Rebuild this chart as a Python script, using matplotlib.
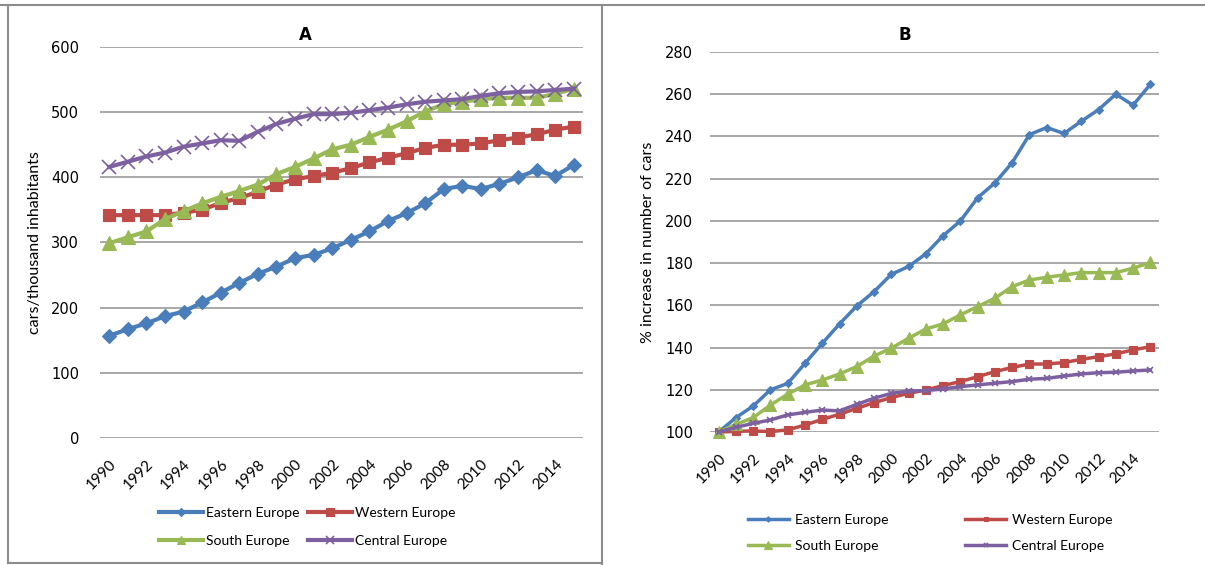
import matplotlib
matplotlib.use('Agg')
import matplotlib.pyplot as plt
from matplotlib.lines import Line2D
import numpy

YEARS = list(range(1990, 2016))
REGIONS = ['Eastern Europe', 'Western Europe', 'South Europe', 'Central Europe']

# cars per thousand inhabitants (panel A)
eastern_cars = [157, 167, 176, 187, 194, 208, 223, 238, 252, 263, 276, 281, 291, 304, 317,
                333, 345, 360, 382, 387, 382, 390, 400, 411, 402, 419]
western_cars = [342, 342, 342, 342, 346, 350, 361, 368, 378, 389, 397, 402, 407, 414, 423,
                430, 437, 445, 450, 450, 452, 457, 461, 466, 473, 478]
south_cars = [299, 308, 317, 336, 348, 360, 370, 379, 389, 405, 416, 429, 443, 450, 462,
              473, 486, 501, 512, 516, 520, 522, 522, 522, 528, 536]
central_cars = [416, 424, 432, 438, 447, 452, 457, 456, 470, 482, 490, 497, 497, 499, 503,
                507, 512, 516, 518, 520, 525, 529, 531, 532, 534, 536]

# % increase in number of cars (panel B)
eastern_pct = [100, 106.8, 112.3, 120, 123, 132.5, 142, 151.2, 159.7, 166.5, 174.7, 178.4, 184.4,
               193, 200, 211, 218, 227.6, 240.9, 244.2, 241.4, 247.2, 252.7, 260, 254.8, 264.7]
western_pct = [100, 100.3, 100.5, 100.2, 101, 103.3, 106, 108.4, 111.2, 113.9, 116.3, 118.3, 119.9,
               122, 123.9, 126.2, 128.6, 130.6, 132.2, 132.2, 132.9, 134.4, 135.7, 137, 138.9, 140.4]
south_pct = [100, 103.6, 106.8, 112.8, 117.9, 122.3, 124.6, 127.5, 131, 136, 139.7, 144.4, 148.8,
             151.2, 155.5, 159.4, 163.4, 168.9, 172, 173.3, 174.4, 175.5, 175.5, 175.5, 177.6, 180.3]
central_pct = [100, 102.2, 104.1, 105.7, 108.1, 109.3, 110.4, 110, 113.1, 116, 118.3, 119.4, 119.6,
               120.4, 121.5, 122.3, 123.1, 123.9, 125, 125.4, 126.5, 127.5, 128.1, 128.3, 128.9, 129.4]

COLORS = ['#4A7EBB', '#BE4B48', '#98B954', '#7D60A0']
MARKERS = ['D', 's', '^', 'x']

W, H = 1205, 565
TICK_FONT = ['Lato', 'DejaVu Sans']


def px_box(left, top, right, bottom):
    return [left / W, 1 - bottom / H, (right - left) / W, (bottom - top) / H]


def style_axes(ax, ylim, step, ypad):
    ax.set_xlim(YEARS[0] - 0.5, YEARS[-1] + 0.5)
    ax.set_ylim(*ylim)
    ax.set_yticks(numpy.arange(ylim[0], ylim[1] + 1, step))
    ax.set_xticks(YEARS[::2])
    ax.set_xticklabels([str(y) for y in YEARS[::2]], rotation=45, ha='right', va='top',
                       rotation_mode='anchor', fontsize=11, family=TICK_FONT)
    ax.tick_params(axis='x', length=0, pad=14)
    ax.tick_params(axis='y', length=0, pad=ypad, labelsize=10.5)
    for s in ax.spines.values():
        s.set_visible(False)
    ax.yaxis.grid(True, color='#989898', linewidth=1.2)
    ax.set_axisbelow(True)


def plot_panel(ax, series, sizes, lw):
    for vals, name, c, m, ms in zip(series, REGIONS, COLORS, MARKERS, sizes):
        ax.plot(YEARS, vals, color=c, marker=m, markersize=ms, linewidth=lw,
                markeredgecolor=c, markeredgewidth=1.2 if m == 'x' else 0.8,
                label=name, clip_on=False)


def add_legend(fig, ax, center, **kw):
    h, l = ax.get_legend_handles_labels()
    # matplotlib fills columns first, reorder so rows read E, W / S, C
    order = [0, 2, 1, 3]
    fig.legend([h[i] for i in order], [l[i] for i in order], loc='center',
               bbox_to_anchor=(center[0] / W, 1 - center[1] / H), ncol=2, frameon=False,
               prop={'family': TICK_FONT, 'size': 10}, markerscale=0.6, **kw)


def main():
    fig = plt.figure(figsize=(W / 100, H / 100), dpi=100)

    axA = fig.add_axes(px_box(100, 47, 583, 438))
    plot_panel(axA, [eastern_cars, western_cars, south_cars, central_cars], [7, 9, 10, 10], 3)
    style_axes(axA, (0, 600), 100, 15)
    axA.set_ylabel('cars/thousand inhabitants', fontsize=11.5, family=TICK_FONT)
    axA.yaxis.set_label_coords((42 - 100) / 483, 0.5)
    fig.text(305 / W, 1 - 35 / H, 'A', fontsize=12, fontweight='bold', ha='center', va='center')

    axB = fig.add_axes(px_box(710, 52, 1159, 432))
    plot_panel(axB, [eastern_pct, western_pct, south_pct, central_pct], [4.5, 5.5, 9, 5], 2.5)
    style_axes(axB, (100, 280), 20, 12)
    axB.set_ylabel('% increase in number of cars', fontsize=11.5, family=TICK_FONT)
    axB.yaxis.set_label_coords((655 - 710) / 449, 0.5)
    fig.text(905 / W, 1 - 35 / H, 'B', fontsize=12, fontweight='bold', ha='center', va='center')

    add_legend(fig, axA, (307, 527), handlelength=3.2, columnspacing=0.6,
               labelspacing=1.2, handletextpad=0.2)
    add_legend(fig, axB, (930, 533), handlelength=3.0, columnspacing=5.5,
               labelspacing=1.0, handletextpad=0.4)

    # panel frames
    frame = dict(color='#8c8c8c', linewidth=1.5, transform=None)
    for xs, ys in [((0, W), (H - 5, H - 5)), ((8, 8), (H - 5, H - 563)),
                   ((8, 602), (H - 563, H - 563)), ((602, 602), (H - 5, 0))]:
        fig.add_artist(Line2D(xs, ys, **frame))

    fig.savefig('out.png', dpi=100)


if __name__ == '__main__':
    main()
